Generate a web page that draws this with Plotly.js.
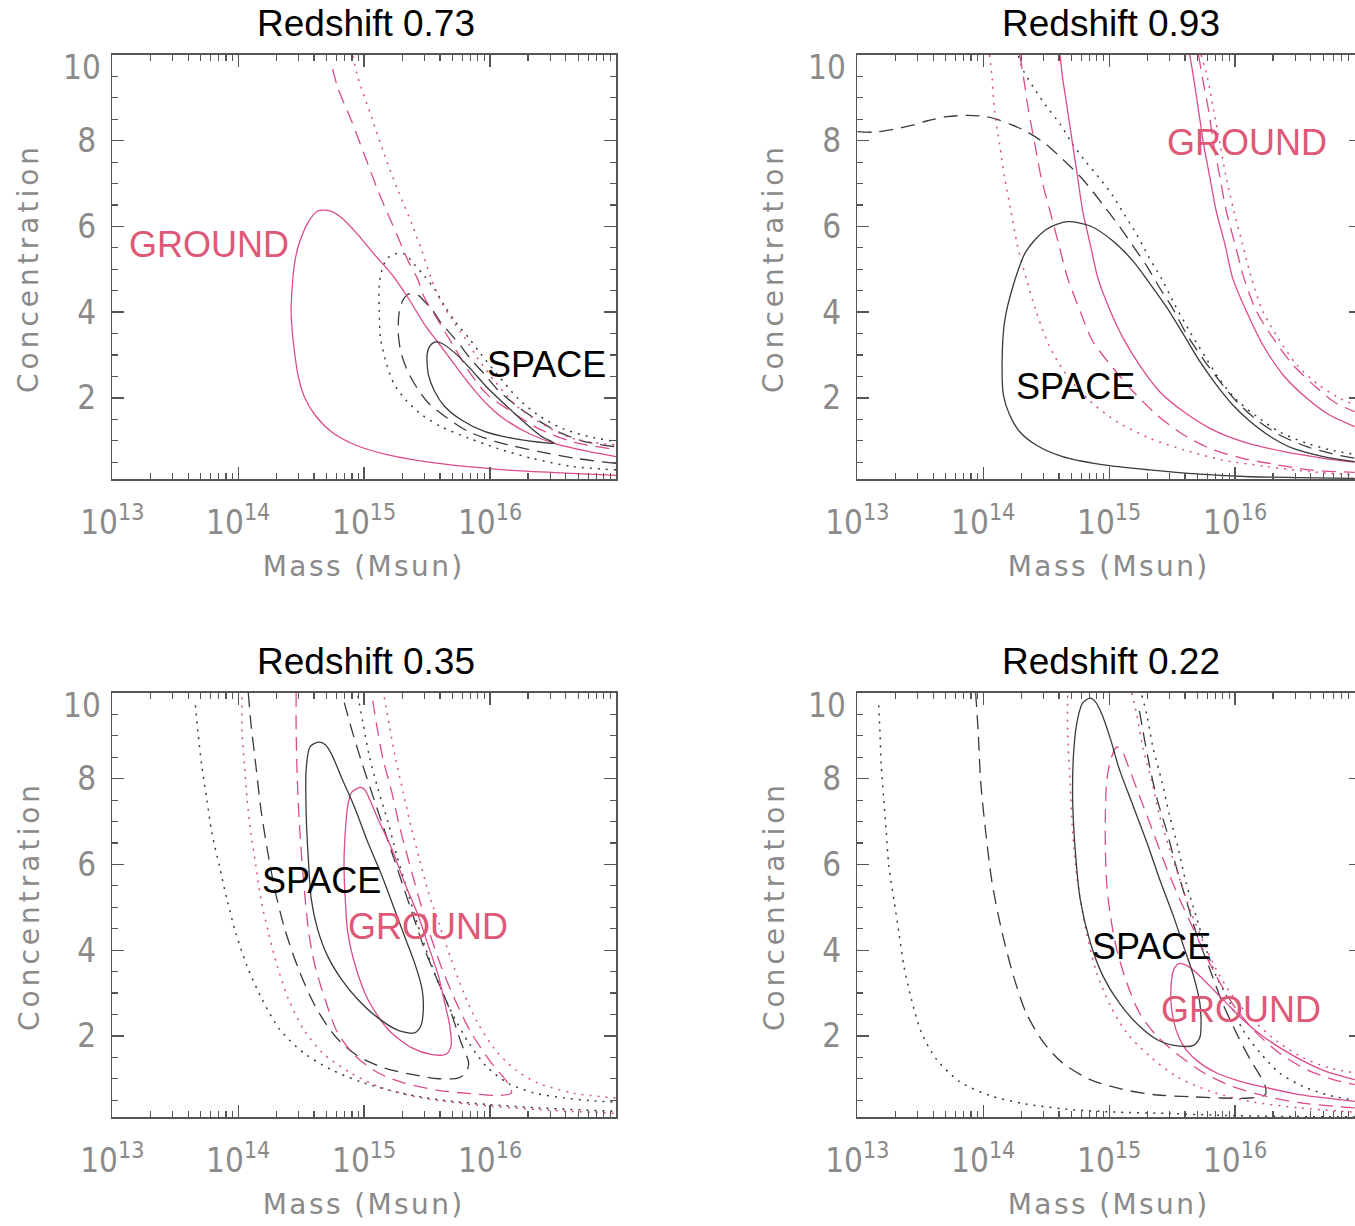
<!DOCTYPE html>
<html>
<head>
<meta charset="utf-8">
<script src="https://cdn.plot.ly/plotly-3.0.1.min.js"></script>
<style>
  html, body { margin: 0; padding: 0; overflow: hidden; background: #fff; }
  #chart { width: 1364px; height: 1226px; }
</style>
</head>
<body>
<div id="chart"></div>
<script>
// Mass-concentration confidence contours (space vs ground lensing) at four redshifts.
// Masses are stored as log10(M / Msun); concentrations as plain values.

// ---- Redshift 0.73 ----
const p073_spaceSolid_logM = [15.50,15.52,15.56,15.61,15.72,15.85,15.98,16.12,16.28,16.41,16.51,16.38,16.17,15.96,15.77,15.64,15.56,15.51,15.50];
const p073_spaceSolid_c    = [3.01,3.20,3.30,3.28,3.05,2.66,2.23,1.84,1.41,1.10,0.94,0.97,1.06,1.21,1.49,1.80,2.15,2.54,3.01];
const p073_spaceDash_logM  = [17.00,16.70,16.38,16.06,15.83,15.64,15.51,15.42,15.34,15.29,15.27,15.28,15.31,15.36,15.43,15.48,15.55,15.61,15.69,15.77,15.85,15.96,16.06,16.20,16.35,16.54,16.75,17.00];
const p073_spaceDash_c     = [0.47,0.58,0.75,0.97,1.21,1.57,1.88,2.23,2.66,3.09,3.55,4.02,4.29,4.43,4.39,4.25,4.02,3.75,3.48,3.20,2.89,2.54,2.19,1.84,1.53,1.21,0.98,0.86];
const p073_spaceDot_logM   = [17.00,16.65,16.33,16.06,15.83,15.61,15.46,15.34,15.24,15.18,15.13,15.12,15.12,15.15,15.19,15.24,15.32,15.40,15.48,15.56,15.64,15.72,15.83,15.93,16.06,16.22,16.38,16.57,16.78,17.00];
const p073_spaceDot_c      = [0.32,0.40,0.59,0.82,1.06,1.33,1.60,1.92,2.31,2.77,3.40,4.02,4.64,5.07,5.27,5.36,5.36,5.11,4.84,4.53,4.14,3.79,3.40,3.01,2.54,1.99,1.60,1.29,1.10,0.98];
const p073_groundSolid_logM = [17.00,16.65,16.12,15.59,15.19,14.93,14.74,14.61,14.53,14.48,14.44,14.42,14.43,14.45,14.49,14.56,14.63,14.69,14.75,14.82,14.95,15.08,15.22,15.35,15.48,15.59,15.72,15.85,15.98,16.12,16.33,16.51,16.78,17.00];
const p073_groundSolid_c    = [0.19,0.24,0.32,0.47,0.67,0.90,1.21,1.60,1.99,2.46,3.24,4.02,4.64,5.19,5.66,6.12,6.36,6.38,6.34,6.20,5.81,5.35,4.88,4.33,3.71,3.28,2.77,2.27,1.84,1.49,1.14,0.94,0.75,0.63];
const p073_groundDash_logM  = [14.75,14.79,14.90,15.01,15.11,15.19,15.27,15.35,15.42,15.48,15.56,15.64,15.72,15.85,15.98,16.17,16.38,16.65,17.00];
const p073_groundDash_c     = [9.67,9.24,8.46,7.61,6.83,6.28,5.74,5.19,4.80,4.33,3.94,3.55,3.16,2.54,2.07,1.68,1.29,0.98,0.79];
const p073_groundDot_logM   = [14.91,14.95,15.06,15.16,15.27,15.38,15.46,15.53,15.61,15.69,15.80,15.90,16.04,16.20,16.38,16.65,17.00];
const p073_groundDot_c      = [9.98,9.48,8.54,7.68,6.83,6.05,5.42,4.80,4.25,3.86,3.40,2.93,2.38,1.84,1.45,1.06,0.90];

// ---- Redshift 0.93 ----
const p093_spaceSolid_logM = [16.95,16.70,16.46,16.28,16.12,15.98,15.85,15.72,15.59,15.46,15.32,15.19,15.03,14.85,14.67,14.50,14.34,14.24,14.17,14.15,14.16,14.21,14.29,14.42,14.63,14.93,15.32,15.72,16.12,16.51,16.95];
const p093_spaceSolid_c    = [0.51,0.63,0.82,1.10,1.45,1.84,2.31,2.85,3.48,4.10,4.68,5.19,5.66,6.01,6.11,5.93,5.42,4.64,3.79,2.85,2.07,1.60,1.21,0.90,0.63,0.45,0.32,0.22,0.16,0.14,0.12];
const p093_spaceDash_logM  = [13.00,13.13,13.29,13.42,13.55,13.71,13.87,14.00,14.11,14.21,14.32,14.48,14.63,14.79,14.95,15.08,15.19,15.30,15.40,15.51,15.61,15.75,15.88,16.01,16.17,16.35,16.57,16.75,16.95];
const p093_spaceDash_c     = [8.21,8.20,8.27,8.35,8.46,8.56,8.59,8.57,8.50,8.39,8.25,7.96,7.57,7.10,6.51,6.01,5.54,5.07,4.57,4.06,3.51,2.89,2.38,1.92,1.49,1.14,0.86,0.71,0.59];
const p093_spaceDot_logM   = [14.28,14.32,14.40,14.50,14.61,14.71,14.82,14.93,15.03,15.12,15.22,15.31,15.42,15.52,15.64,15.76,15.88,16.01,16.17,16.35,16.57,16.75,16.95];
const p093_spaceDot_c      = [9.98,9.63,9.24,8.81,8.39,7.92,7.49,7.10,6.71,6.28,5.81,5.31,4.76,4.18,3.55,2.97,2.42,1.96,1.57,1.21,0.94,0.79,0.68];
const p093_groundSolidA_logM = [14.61,14.63,14.67,14.71,14.75,14.79,14.85,14.91,15.01,15.11,15.24,15.40,15.59,15.80,16.06,16.38,16.70,16.95];
const p093_groundSolidA_c    = [10.0,9.48,8.70,7.92,7.14,6.36,5.58,4.80,4.02,3.40,2.77,2.15,1.68,1.29,0.98,0.75,0.59,0.50];
const p093_groundSolidB_logM = [15.64,15.67,15.71,15.75,15.80,15.85,15.92,15.98,16.09,16.22,16.38,16.57,16.75,16.95];
const p093_groundSolidB_c    = [10.0,9.48,8.70,7.92,7.14,6.36,5.58,4.80,4.02,3.24,2.54,1.99,1.60,1.33];
const p093_groundDashA_logM  = [14.29,14.32,14.36,14.41,14.46,14.53,14.60,14.67,14.77,14.87,15.03,15.19,15.38,15.59,15.80,16.06,16.33,16.59,16.95];
const p093_groundDashA_c     = [10.0,9.48,8.70,7.92,7.14,6.36,5.58,4.80,4.02,3.32,2.70,2.15,1.60,1.14,0.82,0.59,0.44,0.32,0.26];
const p093_groundDashB_logM  = [15.71,15.74,15.79,15.83,15.88,15.93,16.00,16.07,16.17,16.30,16.46,16.65,16.80,16.95];
const p093_groundDashB_c     = [10.0,9.48,8.70,7.92,7.14,6.36,5.58,4.80,4.02,3.40,2.77,2.23,1.88,1.68];
const p093_groundDotA_logM   = [14.05,14.07,14.09,14.13,14.17,14.22,14.27,14.34,14.42,14.52,14.66,14.85,15.06,15.32,15.59,15.90,16.25,16.59,16.95];
const p093_groundDotA_c      = [10.0,9.48,8.70,7.92,7.14,6.36,5.58,4.80,4.02,3.24,2.54,1.92,1.45,1.06,0.79,0.55,0.40,0.28,0.20];
const p093_groundDotB_logM   = [15.73,15.78,15.83,15.88,15.93,15.99,16.06,16.13,16.22,16.34,16.49,16.66,16.83,16.95];
const p093_groundDotB_c      = [10.0,9.48,8.70,7.92,7.14,6.36,5.58,4.80,4.02,3.40,2.77,2.31,1.99,1.84];

// ---- Redshift 0.35 ----
const p035_spaceSolid_logM = [14.63,14.57,14.54,14.54,14.56,14.58,14.63,14.71,14.82,14.95,15.11,15.27,15.40,15.45,15.47,15.46,15.40,15.32,15.24,15.14,15.03,14.93,14.82,14.74,14.69,14.63];
const p035_spaceSolid_c    = [8.85,8.74,8.23,7.14,5.97,5.19,4.49,3.86,3.32,2.85,2.42,2.13,2.07,2.23,2.62,3.09,3.71,4.33,4.96,5.74,6.51,7.29,8.03,8.58,8.80,8.85];
const p035_spaceDash_logM  = [14.08,14.10,14.14,14.18,14.23,14.29,14.37,14.48,14.61,14.77,14.95,15.16,15.38,15.59,15.75,15.81,15.83,15.77,15.69,15.59,15.48,15.38,15.30,15.22,15.14,15.06,14.98,14.90,14.83];
const p035_spaceDash_c     = [10.0,9.32,8.31,7.29,6.36,5.42,4.49,3.55,2.70,1.99,1.53,1.25,1.10,1.00,1.02,1.15,1.37,1.84,2.54,3.24,4.02,4.88,5.58,6.28,6.98,7.68,8.39,9.16,9.91];
const p035_spaceDotA_logM  = [13.66,13.68,13.71,13.75,13.79,13.85,13.91,13.98,14.07,14.19,14.33,14.52,14.74,14.98,15.27,15.59,15.98,16.38,17.00];
const p035_spaceDotA_c     = [9.71,9.09,8.31,7.53,6.75,5.97,5.19,4.41,3.63,2.85,2.15,1.60,1.21,0.92,0.68,0.51,0.40,0.32,0.24];
const p035_spaceDotB_logM  = [14.95,14.99,15.04,15.11,15.19,15.26,15.34,15.42,15.51,15.60,15.71,15.83,15.97,16.14,16.35,16.59,16.80,17.00];
const p035_spaceDotB_c     = [9.94,9.32,8.54,7.76,6.98,6.20,5.42,4.64,3.86,3.16,2.46,1.84,1.29,0.90,0.67,0.55,0.49,0.45];
const p035_groundSolid_logM = [14.97,14.90,14.87,14.85,14.84,14.85,14.87,14.93,15.03,15.19,15.38,15.53,15.65,15.69,15.68,15.64,15.59,15.51,15.43,15.32,15.22,15.11,15.03,15.00,14.97];
const p035_groundSolid_c    = [7.80,7.68,7.37,6.75,5.97,5.19,4.41,3.63,2.85,2.15,1.72,1.57,1.57,1.76,2.23,2.77,3.40,4.10,4.80,5.58,6.36,7.06,7.61,7.76,7.80];
const p035_groundDash_logM  = [14.46,14.46,14.47,14.49,14.52,14.56,14.61,14.69,14.79,14.93,15.11,15.32,15.59,15.85,16.09,16.17,16.14,16.01,15.85,15.72,15.61,15.51,15.43,15.35,15.28,15.22,15.15,15.10,15.06];
const p035_groundDash_c     = [10.0,9.09,7.92,6.75,5.58,4.41,3.63,2.85,2.07,1.53,1.14,0.90,0.73,0.65,0.61,0.67,0.90,1.37,2.07,2.85,3.63,4.49,5.27,6.12,6.90,7.68,8.46,9.24,9.98];
const p035_groundDotA_logM  = [14.03,14.03,14.05,14.07,14.10,14.14,14.18,14.24,14.31,14.40,14.52,14.67,14.89,15.14,15.46,15.85,16.38,17.00];
const p035_groundDotA_c     = [9.90,9.09,8.31,7.53,6.75,5.97,5.19,4.41,3.63,2.85,2.15,1.60,1.14,0.79,0.55,0.40,0.28,0.19];
const p035_groundDotB_logM  = [15.16,15.20,15.25,15.31,15.37,15.44,15.51,15.60,15.69,15.79,15.90,16.04,16.20,16.38,16.65,17.00];
const p035_groundDotB_c     = [9.90,9.24,8.46,7.68,6.90,6.12,5.35,4.57,3.79,3.01,2.31,1.68,1.21,0.90,0.67,0.55];

// ---- Redshift 0.22 ----
const p022_spaceSolid_logM = [14.85,14.79,14.75,14.72,14.71,14.73,14.77,14.85,14.95,15.08,15.24,15.40,15.56,15.67,15.72,15.73,15.72,15.67,15.59,15.51,15.40,15.30,15.19,15.08,15.01,14.94,14.89,14.85];
const p022_spaceSolid_c    = [9.88,9.77,9.40,8.70,7.53,6.36,5.19,4.18,3.40,2.77,2.23,1.88,1.76,1.78,1.96,2.31,2.77,3.40,4.10,4.80,5.66,6.51,7.37,8.23,8.93,9.52,9.80,9.88];
const p022_spaceDash_logM  = [13.94,13.96,13.98,14.02,14.07,14.15,14.24,14.34,14.48,14.63,14.85,15.11,15.38,15.64,15.90,16.12,16.24,16.24,16.20,16.12,16.01,15.90,15.80,15.69,15.61,15.53,15.46,15.38,15.32,15.27,15.24];
const p022_spaceDash_c     = [10.0,9.09,7.92,6.75,5.58,4.41,3.40,2.54,1.84,1.37,0.98,0.75,0.62,0.58,0.55,0.55,0.63,0.82,1.06,1.45,2.07,2.77,3.55,4.41,5.19,5.97,6.75,7.53,8.31,9.09,9.59];
const p022_spaceDotA_logM  = [13.17,13.18,13.19,13.21,13.23,13.25,13.29,13.33,13.37,13.43,13.51,13.63,13.81,14.05,14.32,14.66,15.06,15.46,15.85,16.38,16.95];
const p022_spaceDotA_c     = [9.71,9.09,8.31,7.53,6.75,5.97,5.19,4.41,3.63,2.85,2.07,1.45,0.94,0.61,0.42,0.29,0.22,0.19,0.15,0.12,0.11];
const p022_spaceDotB_logM  = [15.26,15.30,15.35,15.42,15.48,15.55,15.61,15.69,15.77,15.85,15.96,16.06,16.20,16.35,16.54,16.75,16.95];
const p022_spaceDotB_c     = [9.94,9.48,8.70,7.92,7.14,6.36,5.58,4.80,4.02,3.40,2.77,2.15,1.60,1.14,0.82,0.61,0.50];
const p022_groundSolid_logM = [16.95,16.78,16.51,16.25,16.04,15.85,15.72,15.61,15.55,15.51,15.49,15.50,15.52,15.56,15.61,15.69,15.80,15.93,16.06,16.22,16.38,16.57,16.75,16.95];
const p022_groundSolid_c    = [0.47,0.53,0.63,0.79,0.94,1.14,1.37,1.68,1.99,2.38,2.85,3.40,3.59,3.69,3.65,3.48,3.16,2.77,2.38,1.99,1.68,1.37,1.14,0.98];
const p022_groundDash_logM  = [16.95,16.78,16.51,16.25,15.98,15.75,15.56,15.38,15.24,15.14,15.06,15.01,14.98,14.97,14.97,14.98,15.01,15.06,15.10,15.15,15.22,15.30,15.38,15.46,15.56,15.67,15.77,15.88,16.01,16.17,16.35,16.57,16.78,16.95];
const p022_groundDash_c     = [0.32,0.36,0.44,0.59,0.82,1.14,1.53,1.99,2.54,3.24,4.02,4.80,5.58,6.36,7.14,7.92,8.42,8.74,8.66,8.31,7.76,7.14,6.51,5.89,5.19,4.49,3.86,3.24,2.62,2.07,1.60,1.21,0.98,0.86];
const p022_groundDotA_logM  = [14.67,14.67,14.69,14.71,14.75,14.82,14.90,15.01,15.14,15.32,15.53,15.80,16.12,16.51,16.95];
const p022_groundDotA_c     = [9.94,9.09,7.92,6.75,5.58,4.41,3.48,2.70,2.07,1.53,1.06,0.71,0.47,0.32,0.22];
const p022_groundDotB_logM  = [15.18,15.22,15.27,15.34,15.40,15.48,15.56,15.65,15.75,15.85,15.98,16.14,16.33,16.54,16.75,16.95];
const p022_groundDotB_c     = [10.0,9.48,8.70,7.92,7.14,6.36,5.66,4.88,4.18,3.55,2.93,2.38,1.88,1.49,1.25,1.14];

// ---- Axis ticks and panel text ----
const massTickVals = [1e13, 1e14, 1e15, 1e16];
const massTickText = ['10<sup>13</sup>', '10<sup>14</sup>', '10<sup>15</sup>', '10<sup>16</sup>'];
const massMinorMantissas = [2, 3, 4, 5, 6, 7, 8, 9];
const concTickVals = [2, 4, 6, 8];
const panelTitles = ['Redshift 0.73', 'Redshift 0.93', 'Redshift 0.35', 'Redshift 0.22'];

// ---- Styling ----
const W = 1364, H = 1226;
const fx = p => p / W;
const fy = p => 1 - p / H;
const INK = '#3a3a3a';
const PINK = '#dc4a8c';
const LABEL_PINK = '#de5878';
const FRAME = '#555555';
const GREY_TEXT = '#8a8a8a';
const DASH = '14px,8px';
const DOT = '2px,6px';
const axisFont = 'DejaVu Sans, Liberation Sans, sans-serif';
const tickFontFamily = '"Liberation Sans Narrow", "DejaVu Sans Condensed", "Liberation Sans", sans-serif';
const labelFont = 'Liberation Sans, Arial, sans-serif';

// panel frames in page pixels: [left, right, top, bottom]
const frames = [
  [112.3, 616.0, 55.0, 479.3],
  [857.3, 1361.0, 55.0, 479.3],
  [112.3, 616.0, 693.0, 1117.3],
  [857.3, 1361.0, 693.0, 1117.3]
];

function curve(n, logM, conc, color, dash) {
  const s = n === 1 ? '' : String(n);
  const dotted = dash === DOT;
  return {
    type: 'scatter', mode: 'lines',
    x: logM.map(v => Math.pow(10, v)), y: conc,
    xaxis: 'x' + s, yaxis: 'y' + s,
    line: { color: color, width: dotted ? 1.5 : 1.3, dash: dash, shape: 'spline', smoothing: 0.8 },
    hoverinfo: 'skip', showlegend: false, cliponaxis: true
  };
}

const traces = [
  curve(1, p073_spaceDot_logM, p073_spaceDot_c, INK, DOT),
  curve(1, p073_spaceDash_logM, p073_spaceDash_c, INK, DASH),
  curve(1, p073_groundDot_logM, p073_groundDot_c, PINK, DOT),
  curve(1, p073_groundDash_logM, p073_groundDash_c, PINK, DASH),
  curve(1, p073_groundSolid_logM, p073_groundSolid_c, PINK, 'solid'),
  curve(1, p073_spaceSolid_logM, p073_spaceSolid_c, INK, 'solid'),

  curve(2, p093_spaceDot_logM, p093_spaceDot_c, INK, DOT),
  curve(2, p093_spaceDash_logM, p093_spaceDash_c, INK, DASH),
  curve(2, p093_groundDotA_logM, p093_groundDotA_c, PINK, DOT),
  curve(2, p093_groundDotB_logM, p093_groundDotB_c, PINK, DOT),
  curve(2, p093_groundDashA_logM, p093_groundDashA_c, PINK, DASH),
  curve(2, p093_groundDashB_logM, p093_groundDashB_c, PINK, DASH),
  curve(2, p093_groundSolidA_logM, p093_groundSolidA_c, PINK, 'solid'),
  curve(2, p093_groundSolidB_logM, p093_groundSolidB_c, PINK, 'solid'),
  curve(2, p093_spaceSolid_logM, p093_spaceSolid_c, INK, 'solid'),

  curve(3, p035_spaceDotA_logM, p035_spaceDotA_c, INK, DOT),
  curve(3, p035_spaceDotB_logM, p035_spaceDotB_c, INK, DOT),
  curve(3, p035_spaceDash_logM, p035_spaceDash_c, INK, DASH),
  curve(3, p035_groundDotA_logM, p035_groundDotA_c, PINK, DOT),
  curve(3, p035_groundDotB_logM, p035_groundDotB_c, PINK, DOT),
  curve(3, p035_groundDash_logM, p035_groundDash_c, PINK, DASH),
  curve(3, p035_groundSolid_logM, p035_groundSolid_c, PINK, 'solid'),
  curve(3, p035_spaceSolid_logM, p035_spaceSolid_c, INK, 'solid'),

  curve(4, p022_spaceDotA_logM, p022_spaceDotA_c, INK, DOT),
  curve(4, p022_spaceDotB_logM, p022_spaceDotB_c, INK, DOT),
  curve(4, p022_spaceDash_logM, p022_spaceDash_c, INK, DASH),
  curve(4, p022_groundDotA_logM, p022_groundDotA_c, PINK, DOT),
  curve(4, p022_groundDotB_logM, p022_groundDotB_c, PINK, DOT),
  curve(4, p022_groundDash_logM, p022_groundDash_c, PINK, DASH),
  curve(4, p022_groundSolid_logM, p022_groundSolid_c, PINK, 'solid'),
  curve(4, p022_spaceSolid_logM, p022_spaceSolid_c, INK, 'solid')
];

const minorMass = [];
massTickVals.forEach(d => massMinorMantissas.forEach(m => minorMass.push(m * d)));

function xAxis(f, anchor) {
  return {
    domain: [fx(f[0]), fx(f[1])], anchor: anchor,
    type: 'log', range: [13, 17], fixedrange: true,
    tickmode: 'array', tickvals: massTickVals, ticktext: massTickText,
    ticks: 'inside', ticklen: 12, tickwidth: 1.3, tickcolor: FRAME,
    showline: true, linecolor: FRAME, linewidth: 1.6, mirror: 'allticks',
    showgrid: false, zeroline: false,
    tickfont: { family: tickFontFamily, size: 33, color: GREY_TEXT },
    ticklabelstandoff: 13,
    minor: { tickmode: 'array', tickvals: minorMass, ticks: 'inside', ticklen: 6, tickwidth: 1.1, tickcolor: FRAME, showgrid: false }
  };
}
function yAxis(f, anchor) {
  return {
    domain: [fy(f[3]), fy(f[2])], anchor: anchor,
    range: [0.1, 10], fixedrange: true,
    tickmode: 'array', tickvals: concTickVals,
    ticks: 'inside', ticklen: 12, tickwidth: 1.3, tickcolor: FRAME,
    showline: true, linecolor: FRAME, linewidth: 1.6, mirror: 'allticks',
    showgrid: false, zeroline: false,
    tickfont: { family: tickFontFamily, size: 33, color: GREY_TEXT },
    ticklabelstandoff: 8,
    minor: { tick0: 0, dtick: 0.5, ticks: 'inside', ticklen: 6, tickwidth: 1.1, tickcolor: FRAME, showgrid: false }
  };
}

const annotations = [];
function note(text, cx, cy, font, extra) {
  annotations.push(Object.assign({
    text: text, xref: 'paper', yref: 'paper', x: fx(cx), y: fy(cy),
    xanchor: 'center', yanchor: 'middle', showarrow: false, font: font
  }, extra || {}));
}

frames.forEach((f, i) => {
  const rowOffset = f[2] - 55;
  const colOffset = f[0] - 112.3;
  note(panelTitles[i], 366 + colOffset, 23 + rowOffset, { family: labelFont, size: 37, color: '#000' });
  note('Mass (Msun)', 363 + colOffset, 566 + rowOffset, { family: axisFont, size: 28, color: GREY_TEXT });
  note('Concentration', 29 + colOffset, 268 + rowOffset, { family: axisFont, size: 28, color: GREY_TEXT }, { textangle: -90 });
  // the top "10" label of the concentration axis sits a little below the frame
  note('10', 103 + colOffset, 67.5 + rowOffset, { family: tickFontFamily, size: 33, color: GREY_TEXT }, { xanchor: 'right' });
});

const GROUND_FONT = { family: labelFont, size: 36, color: LABEL_PINK };
const SPACE_FONT = { family: labelFont, size: 36, color: '#000' };
note('GROUND', 209, 244, GROUND_FONT);
note('SPACE', 546, 365, SPACE_FONT);
note('GROUND', 1247, 142, GROUND_FONT);
note('SPACE', 1075, 386, SPACE_FONT);
note('SPACE', 321, 880, SPACE_FONT);
note('GROUND', 428, 926, GROUND_FONT);
note('SPACE', 1151, 946, SPACE_FONT);
note('GROUND', 1241, 1009, GROUND_FONT);

const layout = {
  width: W, height: H,
  margin: { l: 0, r: 0, t: 0, b: 0 },
  paper_bgcolor: '#ffffff', plot_bgcolor: '#ffffff',
  showlegend: false,
  xaxis: xAxis(frames[0], 'y'), yaxis: yAxis(frames[0], 'x'),
  xaxis2: xAxis(frames[1], 'y2'), yaxis2: yAxis(frames[1], 'x2'),
  xaxis3: xAxis(frames[2], 'y3'), yaxis3: yAxis(frames[2], 'x3'),
  xaxis4: xAxis(frames[3], 'y4'), yaxis4: yAxis(frames[3], 'x4'),
  annotations: annotations
};

Plotly.newPlot('chart', traces, layout, { staticPlot: true, displayModeBar: false }).then(() => {
  // widen the axis titles to the open letter spacing of the plotting font
  document.querySelectorAll('.annotation-text').forEach(t => {
    if (t.textContent === 'Mass (Msun)') t.style.letterSpacing = '2.4px';
    if (t.textContent === 'Concentration') t.style.letterSpacing = '4px';
  });
});
</script>
</body>
</html>
